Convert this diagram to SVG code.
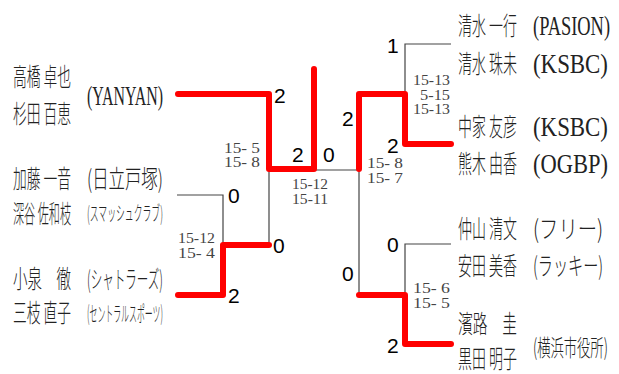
<svg xmlns="http://www.w3.org/2000/svg" width="619" height="374" viewBox="0 0 619 374">
<style>
.nm{font-family:"Noto Sans CJK JP","Noto Sans CJK SC",sans-serif;font-size:25px;font-weight:300;fill:#222}
.kt{font-family:"Noto Sans CJK JP","Noto Sans CJK SC",sans-serif;font-weight:300;fill:#222}
.lt{font-family:"Liberation Serif",serif;font-size:28px;fill:#222}
.sc{font-family:"Liberation Serif",serif;font-size:14px;fill:#444}
.dg{font-family:"Liberation Sans",Arial,sans-serif;font-size:21px;fill:#000}
.bk{stroke:#444;stroke-width:1.2;fill:none}
.rd{stroke:#ff0000;stroke-width:6;fill:none;stroke-linecap:round;stroke-linejoin:round}
</style>
<rect width="619" height="374" fill="#fff"/>
<g id="connectors">
<path class="bk" d="M177 195H223V245"/>
<path class="bk" d="M269 169V245"/>
<path class="bk" d="M314 170H359V295"/>
<path class="bk" d="M451 44H405V94"/>
<path class="bk" d="M451 244H405V295"/>
<path class="rd" d="M178 94H269V169H314V69"/>
<path class="rd" d="M178 295H223V245H269"/>
<path class="rd" d="M359 169V94H405V144H451"/>
<path class="rd" d="M359 295H405V344H451"/>
</g>
<g id="team-yanyan">
<text class="nm" transform="translate(13,86) scale(0.55,1)" textLength="105.5" lengthAdjust="spacingAndGlyphs">高橋 卓也</text>
<text class="nm" transform="translate(13,123) scale(0.55,1)" textLength="105.5" lengthAdjust="spacingAndGlyphs">杉田 百恵</text>
<text class="lt" transform="translate(87,105) scale(0.543,1)" textLength="140" lengthAdjust="spacingAndGlyphs">(YANYAN)</text>
</g>
<g id="team-hitachi">
<text class="nm" transform="translate(13,188) scale(0.55,1)" textLength="105.5" lengthAdjust="spacingAndGlyphs">加藤 一音</text>
<text class="nm" transform="translate(13,223) scale(0.45,1)" textLength="129" lengthAdjust="spacingAndGlyphs">深谷 佐和枝</text>
<text class="kt" font-size="25" transform="translate(87,188) scale(0.66,1)" textLength="115" lengthAdjust="spacingAndGlyphs">(日立戸塚)</text>
<text class="kt" font-size="20" transform="translate(87,221) scale(0.44,1)" textLength="172.7" lengthAdjust="spacingAndGlyphs">(スマッシュクラブ)</text>
</g>
<g id="team-shuttlers">
<text class="nm" transform="translate(13,288) scale(0.58,1)" textLength="100" lengthAdjust="spacingAndGlyphs">小泉　徹</text>
<text class="nm" transform="translate(13,322) scale(0.55,1)" textLength="105.5" lengthAdjust="spacingAndGlyphs">三枝 直子</text>
<text class="kt" font-size="24" transform="translate(87,288) scale(0.48,1)" textLength="158" lengthAdjust="spacingAndGlyphs">(シャトラーズ)</text>
<text class="kt" font-size="21" transform="translate(87,321) scale(0.376,1)" textLength="202" lengthAdjust="spacingAndGlyphs">(セントラルスポーツ)</text>
</g>
<g id="team-pasion">
<text class="nm" transform="translate(458,35) scale(0.55,1)" textLength="107.3" lengthAdjust="spacingAndGlyphs">清水 一行</text>
<text class="nm" transform="translate(458,73) scale(0.55,1)" textLength="107.3" lengthAdjust="spacingAndGlyphs">清水 珠未</text>
<text class="lt" transform="translate(533,35) scale(0.643,1)" textLength="119.8" lengthAdjust="spacingAndGlyphs">(PASION)</text>
<text class="lt" transform="translate(533,73) scale(0.817,1)" textLength="91.8" lengthAdjust="spacingAndGlyphs">(KSBC)</text>
</g>
<g id="team-ksbc">
<text class="nm" transform="translate(458,136) scale(0.55,1)" textLength="107.3" lengthAdjust="spacingAndGlyphs">中家 友彦</text>
<text class="nm" transform="translate(458,173) scale(0.55,1)" textLength="107.3" lengthAdjust="spacingAndGlyphs">熊木 由香</text>
<text class="lt" transform="translate(533,136) scale(0.817,1)" textLength="91.8" lengthAdjust="spacingAndGlyphs">(KSBC)</text>
<text class="lt" transform="translate(533,173) scale(0.8,1)" textLength="93.75" lengthAdjust="spacingAndGlyphs">(OGBP)</text>
</g>
<g id="team-free">
<text class="nm" transform="translate(458,238) scale(0.55,1)" textLength="107.3" lengthAdjust="spacingAndGlyphs">仲山 清文</text>
<text class="nm" transform="translate(458,275) scale(0.55,1)" textLength="107.3" lengthAdjust="spacingAndGlyphs">安田 美香</text>
<text class="kt" font-size="25" transform="translate(533,238) scale(0.78,1)" textLength="90" lengthAdjust="spacingAndGlyphs">(フリー)</text>
<text class="kt" font-size="25" transform="translate(533,275) scale(0.61,1)" textLength="115" lengthAdjust="spacingAndGlyphs">(ラッキー)</text>
</g>
<g id="team-yokohama">
<text class="nm" transform="translate(458,333) scale(0.59,1)" textLength="100" lengthAdjust="spacingAndGlyphs">濱路　圭</text>
<text class="nm" transform="translate(458,368) scale(0.55,1)" textLength="107.3" lengthAdjust="spacingAndGlyphs">黒田 明子</text>
<text class="kt" font-size="23" transform="translate(533,356) scale(0.58,1)" textLength="129" lengthAdjust="spacingAndGlyphs">(横浜市役所)</text>
</g>
<g id="scores">
<text class="dg" x="274" y="103">2</text>
<text class="dg" x="292" y="162">2</text>
<text class="dg" x="323" y="162">0</text>
<text class="dg" x="342" y="126">2</text>
<text class="dg" x="387" y="153">2</text>
<text class="dg" x="387" y="53">1</text>
<text class="dg" x="228" y="203">0</text>
<text class="dg" x="273" y="253">0</text>
<text class="dg" x="228" y="303">2</text>
<text class="dg" x="342" y="281">0</text>
<text class="dg" x="387" y="252">0</text>
<text class="dg" x="387" y="353">2</text>
<text class="sc" x="224" y="153" textLength="36" lengthAdjust="spacingAndGlyphs">15- 5</text>
<text class="sc" x="224" y="167" textLength="36" lengthAdjust="spacingAndGlyphs">15- 8</text>
<text class="sc" x="292" y="189" textLength="36" lengthAdjust="spacingAndGlyphs">15-12</text>
<text class="sc" x="292" y="204" textLength="36" lengthAdjust="spacingAndGlyphs">15-11</text>
<text class="sc" x="367" y="168" textLength="36" lengthAdjust="spacingAndGlyphs">15- 8</text>
<text class="sc" x="367" y="183" textLength="36" lengthAdjust="spacingAndGlyphs">15- 7</text>
<text class="sc" x="178" y="243" textLength="37" lengthAdjust="spacingAndGlyphs">15-12</text>
<text class="sc" x="178" y="258" textLength="37" lengthAdjust="spacingAndGlyphs">15- 4</text>
<text class="sc" x="413" y="85" textLength="37" lengthAdjust="spacingAndGlyphs">15-13</text>
<text class="sc" x="420" y="100" textLength="30" lengthAdjust="spacingAndGlyphs">5-15</text>
<text class="sc" x="413" y="114" textLength="37" lengthAdjust="spacingAndGlyphs">15-13</text>
<text class="sc" x="413" y="293" textLength="37" lengthAdjust="spacingAndGlyphs">15- 6</text>
<text class="sc" x="413" y="308" textLength="37" lengthAdjust="spacingAndGlyphs">15- 5</text>
</g>
</svg>
